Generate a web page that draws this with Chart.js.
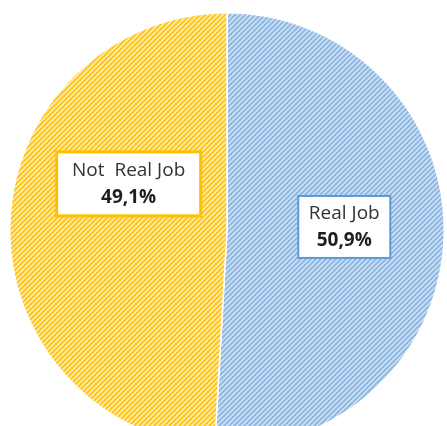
<!DOCTYPE html>
<html>
<head>
<meta charset="utf-8">
<script src="https://cdn.jsdelivr.net/npm/chart.js@4/dist/chart.umd.min.js"></script>
<style>
  html, body { margin: 0; padding: 0; background: #fff; overflow: hidden; }
  #wrap { position: relative; width: 447px; height: 426px; overflow: hidden; }
  #jobPie { position: absolute; left: 0; top: 0; }
</style>
</head>
<body>
<div id="wrap"><canvas id="jobPie" width="445" height="448"></canvas></div>
<script>
// share of answers per category, in percent
const categories = ['Real Job', 'Not Real Job'];
const shares = [50.9, 49.1];
const valueLabels = ['50,9%', '49,1%'];

// stripe colours and box outline per slice
const stripeColors = ['#8fb8e3', '#ffc619'];
const groundColors = ['#d3e4f5', '#ffefbf'];
const boxBorders = ['#5b9bd5', '#ffc000'];

// where each label box sits: fraction of radius, angle shift from the slice middle, box size
const labelPlacement = [
  { r: 0.54, shift: -3.1, w: 92, h: 62, border: 2 },
  { r: 0.50, shift: 23.5, w: 144, h: 64, border: 3 }
];

function stripes(fg, bg) {
  const n = 5;
  const tile = document.createElement('canvas');
  tile.width = n;
  tile.height = n;
  const c = tile.getContext('2d');
  c.fillStyle = bg;
  c.fillRect(0, 0, n, n);
  c.strokeStyle = fg;
  c.lineWidth = 2;
  c.beginPath();
  c.moveTo(-1, n + 1); c.lineTo(n + 1, -1);
  c.moveTo(-1, 1); c.lineTo(1, -1);
  c.moveTo(n - 1, n + 1); c.lineTo(n + 1, n - 1);
  c.stroke();
  return c.createPattern(tile, 'repeat');
}

const ctx = document.getElementById('jobPie').getContext('2d');

const boxLabels = {
  id: 'boxLabels',
  afterDatasetsDraw(chart) {
    const g = chart.ctx;
    const arcs = chart.getDatasetMeta(0).data;
    arcs.forEach((arc, i) => {
      const p = labelPlacement[i];
      const mid = (arc.startAngle + arc.endAngle) / 2 + p.shift * Math.PI / 180;
      const cx = arc.x + Math.cos(mid) * arc.outerRadius * p.r;
      const cy = arc.y + Math.sin(mid) * arc.outerRadius * p.r;
      g.save();
      g.fillStyle = '#ffffff';
      g.fillRect(cx - p.w / 2, cy - p.h / 2, p.w, p.h);
      g.strokeStyle = boxBorders[i];
      g.lineWidth = p.border;
      g.strokeRect(cx - p.w / 2, cy - p.h / 2, p.w, p.h);
      g.textAlign = 'center';
      g.textBaseline = 'middle';
      g.fillStyle = '#333333';
      g.font = '19px "Open Sans", Arial, sans-serif';
      g.fillText(categories[i] === 'Not Real Job' ? 'Not  Real Job' : categories[i], cx, cy - 13);
      g.fillStyle = '#1f1f1f';
      g.font = 'bold 19px "Open Sans", Arial, sans-serif';
      g.fillText(valueLabels[i], cx, cy + 14);
      g.restore();
    });
  }
};

new Chart(ctx, {
  type: 'pie',
  data: {
    labels: categories,
    datasets: [{
      data: shares,
      backgroundColor: categories.map((c, i) => stripes(stripeColors[i], groundColors[i])),
      borderColor: '#ffffff',
      borderWidth: 1.5
    }]
  },
  options: {
    responsive: false,
    animation: false,
    rotation: 0,
    layout: { padding: { left: 9, right: 0, top: 12, bottom: 0 } },
    plugins: {
      legend: { display: false },
      tooltip: { enabled: false }
    }
  },
  plugins: [boxLabels]
});
</script>
</body>
</html>
